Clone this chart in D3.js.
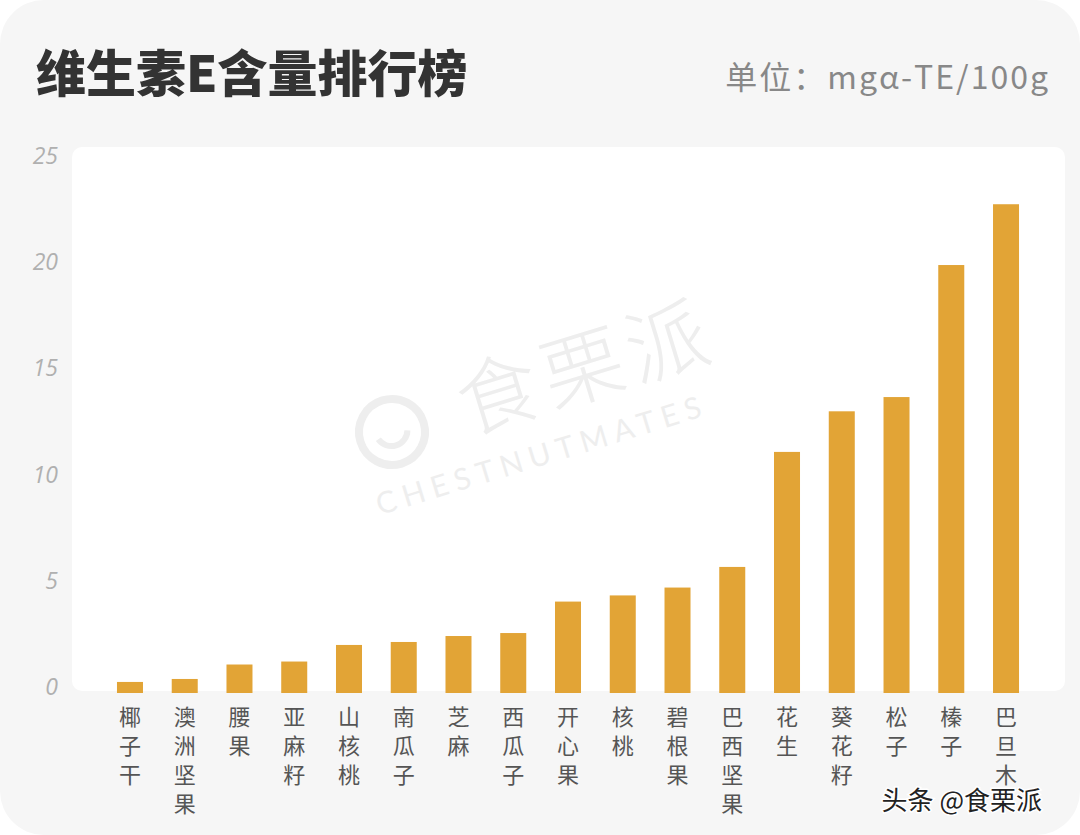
<!DOCTYPE html>
<html>
<head>
<meta charset="utf-8">
<script src="https://cdn.jsdelivr.net/npm/d3@7"></script>
<style>
  body { margin: 0; background: #fff; }
  svg { display: block; font-family: "Noto Sans CJK SC", "Noto Sans", sans-serif; }
</style>
</head>
<body>
<div id="main"></div>
<script>
const foods = ['椰子干', '澳洲坚果', '腰果', '亚麻籽', '山核桃', '南瓜子', '芝麻', '西瓜子', '开心果',
               '核桃', '碧根果', '巴西坚果', '花生', '葵花籽', '松子', '榛子', '巴旦木'];
const vitE = [0.52, 0.66, 1.34, 1.48, 2.26, 2.40, 2.68, 2.82, 4.30,
              4.59, 4.96, 5.93, 11.34, 13.25, 13.92, 20.13, 22.99];
const yTicks = [0, 5, 10, 15, 20, 25];

const width = 1080, height = 835;
const baseY = 693, unit = 21.26;

const svg = d3.select('#main').append('svg').attr('width', width).attr('height', height);

// card background
svg.append('rect')
    .attr('x', 0).attr('y', 0)
    .attr('width', width).attr('height', height)
    .attr('rx', 44)
    .style('fill', '#f6f6f6');

// white plot panel
svg.append('rect')
    .attr('x', 72).attr('y', 147)
    .attr('width', 993).attr('height', 544)
    .attr('rx', 10)
    .style('fill', '#ffffff');

// watermark
const wm = svg.append('g')
    .attr('transform', 'translate(392,432) rotate(-17)')
    .style('fill', '#eeeeee');
wm.append('circle')
    .attr('cx', 0).attr('cy', 0).attr('r', 33)
    .style('fill', 'none').style('stroke', '#eeeeee').style('stroke-width', 8);
wm.append('path')
    .attr('d', d3.arc()({ innerRadius: 13, outerRadius: 19, startAngle: Math.PI * 0.6, endAngle: Math.PI * 1.4 }))
    .attr('transform', 'translate(0,-2)');
wm.append('text')
    .attr('x', 72).attr('y', 24)
    .style('font-size', '82px')
    .style('font-weight', 300)
    .style('letter-spacing', '6px')
    .text('食栗派');
wm.append('text')
    .attr('x', -36).attr('y', 76)
    .style('font-size', '30px')
    .style('font-family', 'Lato, sans-serif')
    .style('letter-spacing', '7px')
    .text('CHESTNUTMATES');

const xScale = d3.scaleBand()
    .domain(foods)
    .range([102.6, 1033.4])
    .paddingInner(0.525)
    .paddingOuter(0.2625);
const yScale = d3.scaleLinear().domain([0, 25]).range([baseY, baseY - 25 * unit]);

// y axis labels
svg.append('g')
    .attr('transform', 'translate(58,-5.5)')
    .call(d3.axisLeft(yScale).tickValues(yTicks).tickSize(0).tickPadding(0))
    .call(g => g.select('.domain').remove())
    .call(g => g.selectAll('text')
        .style('font-size', '23px')
        .style('font-style', 'italic')
        .style('font-family', '"Open Sans", sans-serif')
        .style('fill', '#b0b0b0'));

// bars
svg.append('g').selectAll('rect')
    .data(foods)
    .enter()
    .append('rect')
        .attr('x', d => xScale(d))
        .attr('y', (d, i) => yScale(vitE[i]))
        .attr('width', xScale.bandwidth())
        .attr('height', (d, i) => yScale(0) - yScale(vitE[i]))
        .style('fill', '#e2a436');

// vertical category labels, one character per line
const labels = svg.append('g').selectAll('g')
    .data(foods)
    .enter()
    .append('g')
        .attr('transform', d => `translate(${xScale(d) + xScale.bandwidth() / 2},725)`);
labels.selectAll('text')
    .data(d => d.split(''))
    .enter()
    .append('text')
        .attr('y', (d, i) => i * 29)
        .style('text-anchor', 'middle')
        .style('font-size', '22px')
        .style('fill', '#555')
        .text(d => d);

// title
svg.append('text')
    .attr('x', 36).attr('y', 92)
    .style('font-size', '50px')
    .style('font-weight', 900)
    .style('fill', '#333')
    .text('维生素E含量排行榜');

svg.append('text')
    .attr('x', 1050).attr('y', 89)
    .style('text-anchor', 'end')
    .style('font-size', '32px')
    .style('letter-spacing', '2px')
    .style('fill', '#888')
    .text('单位：mgα-TE/100g');

// source tag
svg.append('text')
    .attr('x', 1042).attr('y', 810)
    .style('text-anchor', 'end')
    .style('font-size', '26px')
    .style('fill', '#222')
    .style('stroke', '#fff')
    .style('stroke-width', 3)
    .style('paint-order', 'stroke')
    .text('头条 @食栗派');
</script>
</body>
</html>
